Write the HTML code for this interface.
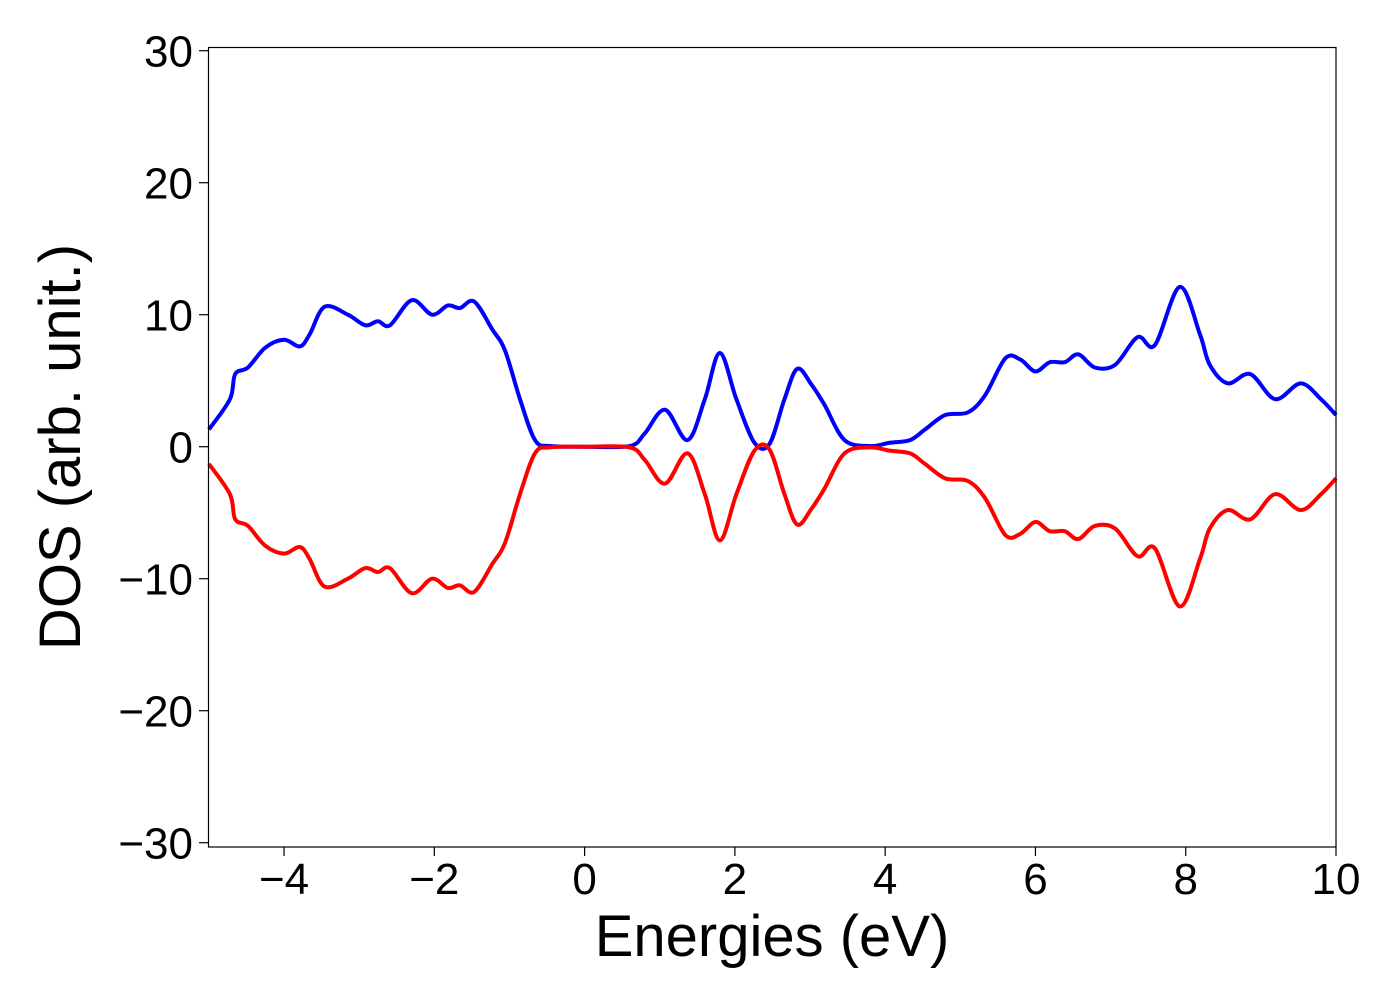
<!DOCTYPE html>
<html><head><meta charset="utf-8"><style>
html,body{margin:0;padding:0;background:#fff;}
svg text{font-family:"Liberation Sans","DejaVu Sans",sans-serif;fill:#000;}
</style></head><body>
<svg id="chart" width="1400" height="1000" viewBox="0 0 1400 1000" xmlns="http://www.w3.org/2000/svg">
<g id="ticks"></g>
<g id="series"></g>
<rect x="208.5" y="47.5" width="1127.5" height="799.5" fill="none" stroke="#000" stroke-width="1.2"/>
<text x="772" y="956" font-size="58" text-anchor="middle">Energies (eV)</text>
<text transform="translate(80,447) rotate(-90)" font-size="58" text-anchor="middle">DOS (arb. unit.)</text>
</svg>
<script>
const xTicks=[-4,-2,0,2,4,6,8,10];
const yTicks=[-30,-20,-10,0,10,20,30];
const energies=[-5,-4.72,-4.65,-4.48,-4.25,-4,-3.79,-3.66,-3.46,-3.15,-2.92,-2.75,-2.59,-2.3,-2.03,-1.82,-1.66,-1.47,-1.23,-1.06,-0.86,-0.66,-0.46,0,0.6,0.8,1.07,1.37,1.6,1.8,2.02,2.26,2.46,2.66,2.83,3.02,3.19,3.46,3.8,4.06,4.33,4.53,4.8,5.1,5.33,5.6,5.8,6.0,6.19,6.39,6.57,6.79,7.06,7.36,7.59,7.92,8.19,8.32,8.56,8.86,9.19,9.53,9.8,10];
const spinUp=[1.3,3.6,5.5,6.0,7.5,8.1,7.6,8.5,10.6,10.0,9.2,9.5,9.2,11.1,10.0,10.7,10.5,11.0,8.9,7.3,3.6,0.5,0.05,0,0.05,1.0,2.8,0.5,3.6,7.1,3.6,0.3,0.2,3.6,5.9,4.7,3.2,0.5,0.05,0.3,0.5,1.3,2.4,2.6,3.9,6.7,6.6,5.7,6.4,6.4,7.0,6.0,6.2,8.3,7.7,12.1,8.5,6.2,4.8,5.5,3.6,4.8,3.6,2.4];
const spinDown=spinUp.map(v=>-v);
const X0=208.9,XS=75.14,Y0=446.7,YS=13.2;
const sx=v=>X0+(v+5)*XS, sy=v=>Y0-v*YS;
const NS="http://www.w3.org/2000/svg";
const tg=document.getElementById('ticks');
function mk(t,a){const e=document.createElementNS(NS,t);for(const k in a)e.setAttribute(k,a[k]);return e;}
xTicks.forEach(t=>{
  const l=mk('line',{x1:sx(t),x2:sx(t),y1:847,y2:856,stroke:'#000','stroke-width':1.2});
  
  
  tg.appendChild(l);
  const tx=mk('text',{x:sx(t),y:894,'font-size':44,'text-anchor':'middle'});
  
  
  tx.textContent=(t<0?'\u2212':'')+Math.abs(t);
  tg.appendChild(tx);
});
yTicks.forEach(t=>{
  const l=mk('line',{x1:199,x2:208,y1:sy(t),y2:sy(t),stroke:'#000','stroke-width':1.2});
  
  
  tg.appendChild(l);
  const tx=mk('text',{x:193,y:sy(t)+16,'font-size':44,'text-anchor':'end'});
  
  
  tx.textContent=(t<0?'\u2212':'')+Math.abs(t);
  tg.appendChild(tx);
});
function pathFor(xs,ys){
  const p=xs.map((x,i)=>[sx(x),sy(ys[i])]);
  let d='M'+p[0][0]+','+p[0][1];
  for(let i=0;i<p.length-1;i++){
    const p0=p[Math.max(0,i-1)],p1=p[i],p2=p[i+1],p3=p[Math.min(p.length-1,i+2)];
    const c1=[p1[0]+(p2[0]-p0[0])/6,p1[1]+(p2[1]-p0[1])/6];
    const c2=[p2[0]-(p3[0]-p1[0])/6,p2[1]-(p3[1]-p1[1])/6];
    d+=`C${c1[0]},${c1[1]} ${c2[0]},${c2[1]} ${p2[0]},${p2[1]}`;
  }
  return d;
}
const sg=document.getElementById('series');
const up=mk('path',{d:pathFor(energies,spinUp),fill:'none',stroke:'#0000ff','stroke-width':4,'stroke-linejoin':'round'});


const dn=mk('path',{d:pathFor(energies,spinDown),fill:'none',stroke:'#ff0000','stroke-width':4,'stroke-linejoin':'round'});


sg.appendChild(up);sg.appendChild(dn);
</script>
</body></html>
